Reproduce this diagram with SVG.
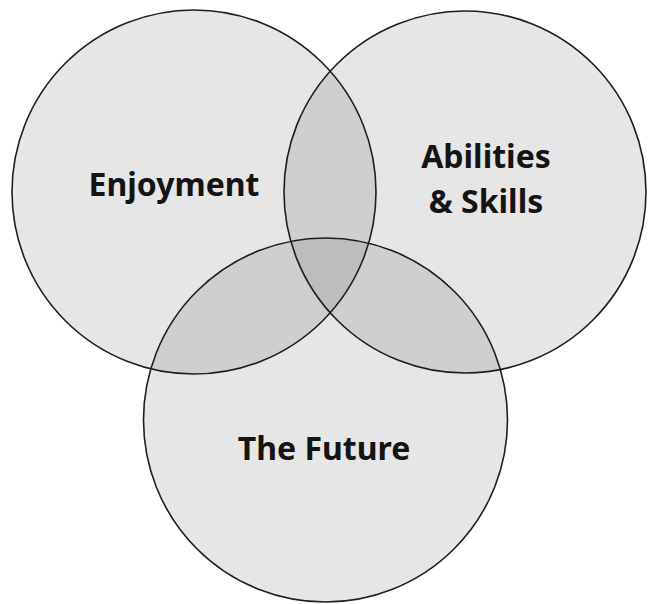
<svg xmlns="http://www.w3.org/2000/svg" width="648" height="604" viewBox="0 0 648 604">
<style>
.base{fill:#e6e6e6;stroke:none}
.two{fill:#cfcfcf;stroke:none}
.three{fill:#bdbdbd;stroke:none}
.edge{fill:none;stroke:#1e1e1e;stroke-width:1.6}
.lbl{font-family:"Noto Sans","Open Sans","DejaVu Sans",sans-serif;font-weight:700;font-size:32px;fill:#141414;text-anchor:middle}
</style>
<defs>
<clipPath id="cA"><circle cx="194" cy="192" r="182"/></clipPath>
<clipPath id="cB"><circle cx="465" cy="192" r="181"/></clipPath>
</defs>
<rect width="648" height="604" fill="#ffffff"/>
<g id="fills">
<circle class="base" cx="194" cy="192" r="182"/>
<circle class="base" cx="465" cy="192" r="181"/>
<circle class="base" cx="325.5" cy="420" r="182"/>
<circle class="two" cx="465" cy="192" r="181" clip-path="url(#cA)"/>
<circle class="two" cx="325.5" cy="420" r="182" clip-path="url(#cA)"/>
<circle class="two" cx="325.5" cy="420" r="182" clip-path="url(#cB)"/>
<g clip-path="url(#cA)"><circle class="three" cx="325.5" cy="420" r="182" clip-path="url(#cB)"/></g>
</g>
<g id="enjoyment">
<circle class="edge" cx="194" cy="192" r="182"/>
<text class="lbl" x="174" y="196">Enjoyment</text>
</g>
<g id="abilities">
<circle class="edge" cx="465" cy="192" r="181"/>
<text class="lbl" x="486" y="168">Abilities</text>
<text class="lbl" x="486" y="213">&amp; Skills</text>
</g>
<g id="future">
<circle class="edge" cx="325.5" cy="420" r="182"/>
<text class="lbl" x="324" y="460">The Future</text>
</g>
<g id="connectors"></g>
</svg>
